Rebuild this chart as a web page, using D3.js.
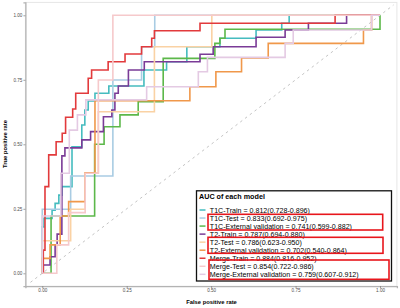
<!DOCTYPE html>
<html><head><meta charset="utf-8">
<script src="https://cdn.jsdelivr.net/npm/d3@7"></script>
<style>body{margin:0;background:#fff}svg{display:block}</style>
</head><body>
<svg id="c" width="400" height="308"></svg>
<script>
// ---- data ----
const modelNames = ["T1C-Train","T1C-Test","T1C-External validation","T2-Train","T2-Test","T2-External validation","Merge-Train","Merge-Test","Merge-External validation"];
const aucLabels = ["0.812(0.728-0.896)","0.833(0.692-0.975)","0.741(0.599-0.882)","0.787(0.694-0.880)","0.786(0.623-0.950)","0.702(0.540-0.864)","0.884(0.816-0.952)","0.854(0.722-0.986)","0.759(0.607-0.912)"];
const axisTicks = [0, 0.25, 0.5, 0.75, 1];
// ROC step points [fpr, tpr]: each point = x of vertical step, tpr at top of step
const t1cTrain = [[0,0],[0,0.18],[0.005,0.213],[0.029,0.245],[0.038,0.271],[0.049,0.303],[0.058,0.336],[0.088,0.49],[0.117,0.575],[0.126,0.633],[0.136,0.668],[0.156,0.698],[0.197,0.726],[0.301,0.788],[0.368,0.82],[0.428,0.878],[0.526,0.911],[0.633,0.943],[0.709,0.969],[0.731,1],[1,1]];
const t1cTest = [[0,0],[0,0.248],[0.084,0.377],[0.209,0.749],[0.294,0.878],[0.333,1],[1,1]];
const t1cExt = [[0,0],[0.026,0.222],[0.155,0.5],[0.183,0.568],[0.23,0.614],[0.284,0.665],[0.358,0.833],[0.511,0.891],[0.526,0.911],[0.541,0.946],[1,1]];
const t2Train = [[0,0],[0.003,0.032],[0.023,0.064],[0.038,0.11],[0.044,0.152],[0.058,0.455],[0.067,0.486],[0.117,0.517],[0.143,0.549],[0.181,0.607],[0.206,0.633],[0.215,0.698],[0.225,0.726],[0.255,0.788],[0.302,0.82],[0.467,0.849],[0.506,0.878],[0.633,0.915],[0.719,0.943],[0.788,0.969],[0.901,1],[1,1]];
const t2Test = [[0,0],[0,0.126],[0.084,0.248],[0.127,0.39],[0.166,0.626],[0.332,0.878],[0.502,1],[1,1]];
const t2Ext = [[0,0],[0,0.058],[0.023,0.11],[0.053,0.222],[0.078,0.278],[0.127,0.39],[0.156,0.669],[0.437,0.723],[0.514,0.781],[0.59,0.835],[0.669,0.891],[0.951,0.943],[0.975,1],[1,1]];
const mergeTrain = [[0,0],[0.003,0.09],[0.008,0.336],[0.019,0.459],[0.041,0.51],[0.059,0.543],[0.069,0.605],[0.09,0.637],[0.099,0.698],[0.136,0.756],[0.146,0.788],[0.195,0.82],[0.245,0.85],[0.294,0.878],[0.324,0.911],[0.332,0.94],[0.467,0.969],[0.867,1],[1,1]];
const mergeTest = [[0,0],[0.043,0.11],[0.078,0.235],[0.127,0.388],[0.166,0.749],[0.209,1],[1,1]];
const mergeExt = [[0,0],[0,0.222],[0.055,0.388],[0.08,0.555],[0.104,0.614],[0.129,0.672],[0.309,0.723],[0.462,0.781],[0.489,0.837],[0.719,0.891],[0.743,0.943],[0.975,1],[1,1]];
const seriesData = [t1cTrain,t1cTest,t1cExt,t2Train,t2Test,t2Ext,mergeTrain,mergeTest,mergeExt];
const colors = ["#45BCBF","#A9CCE3","#5CB84A","#7A3B97","#FAD2A4","#F0984A","#E23A3C","#F6C9CB","#E4CAE3"];

// ---- chart ----
const svg = d3.select("#c");
const x = d3.scaleLinear().domain([-0.05,1.05]).range([25.4,396.9]);
const y = d3.scaleLinear().domain([-0.05,1.05]).range([286.2,2.4]);
const font = "'Liberation Sans', Arial, sans-serif";

// panel border
svg.append("rect").attr("x",x(-0.05)).attr("y",y(1.05)).attr("width",x(1.05)-x(-0.05)).attr("height",y(-0.05)-y(1.05))
  .attr("fill","none").attr("stroke","#e6e6e6").attr("stroke-width",1);

// diagonal
svg.append("line").attr("x1",x(-0.035)).attr("y1",y(-0.035)).attr("x2",x(1.04)).attr("y2",y(1.04))
  .attr("stroke","#c4c4c4").attr("stroke-width",1).attr("stroke-dasharray","2.5,3.5");

// curves
const line = d3.line().x(d=>x(d[0])).y(d=>y(d[1])).curve(d3.curveStepAfter);
seriesData.forEach((s,i)=>{
  svg.append("path").attr("d",line(s)).attr("fill","none").attr("stroke",colors[i]).attr("stroke-width",1.6);
});

// axes
const yAxis = d3.axisLeft(y).tickValues(axisTicks).tickFormat(d3.format(".2f")).tickSize(2).tickPadding(1);
const xAxis = d3.axisBottom(x).tickValues(axisTicks).tickFormat(d3.format(".2f")).tickSize(2).tickPadding(1);
const gy = svg.append("g").attr("transform",`translate(${x(-0.05)},0)`).call(yAxis);
const gx = svg.append("g").attr("transform",`translate(0,${y(-0.05)})`).call(xAxis);
[gx,gy].forEach(g=>{
  g.select(".domain").attr("stroke","#b3b3b3").attr("stroke-width",1.3);
  g.selectAll(".tick line").attr("stroke","#666").attr("stroke-width",0.6);
  g.selectAll(".tick text").attr("fill","#4d4d4d").style("font-size","4.6px").style("font-family",font);
});

// axis titles
svg.append("text").attr("x",211.5).attr("y",304).attr("text-anchor","middle")
  .style("font-family",font).style("font-size","5.8px").style("font-weight","bold").text("False positive rate");
svg.append("text").attr("transform","translate(7,144) rotate(-90)").attr("text-anchor","middle")
  .style("font-family",font).style("font-size","5.8px").style("font-weight","bold").text("True positive rate");

// legend
const lg = svg.append("g");
lg.append("rect").attr("x",196.5).attr("y",190.8).attr("width",195).attr("height",90.2)
  .attr("fill","#fff").attr("stroke","#111").attr("stroke-width",1.3);
lg.append("text").attr("x",199).attr("y",198.9).style("font-family",font).style("font-size","7.2px").style("font-weight","bold").text("AUC of each model");
modelNames.forEach((n,i)=>{
  const cy = 210 + i*8.04;
  lg.append("line").attr("x1",199.5).attr("x2",205.5).attr("y1",cy).attr("y2",cy).attr("stroke",colors[i]).attr("stroke-width",1.5);
  lg.append("text").attr("x",209.8).attr("y",cy+2.5).style("font-family",font).style("font-size","7.1px").attr("fill","#000")
    .text(`${n} = ${aucLabels[i]}`);
});
// red highlight boxes
const boxes = [[208,214.3,382.7,230],[208,237.3,383,253.3],[209,260,389,279.3]];
boxes.forEach(b=>{
  lg.append("rect").attr("x",b[0]).attr("y",b[1]).attr("width",b[2]-b[0]).attr("height",b[3]-b[1])
    .attr("fill","none").attr("stroke","#E8161C").attr("stroke-width",1.6);
});
</script>
</body></html>
